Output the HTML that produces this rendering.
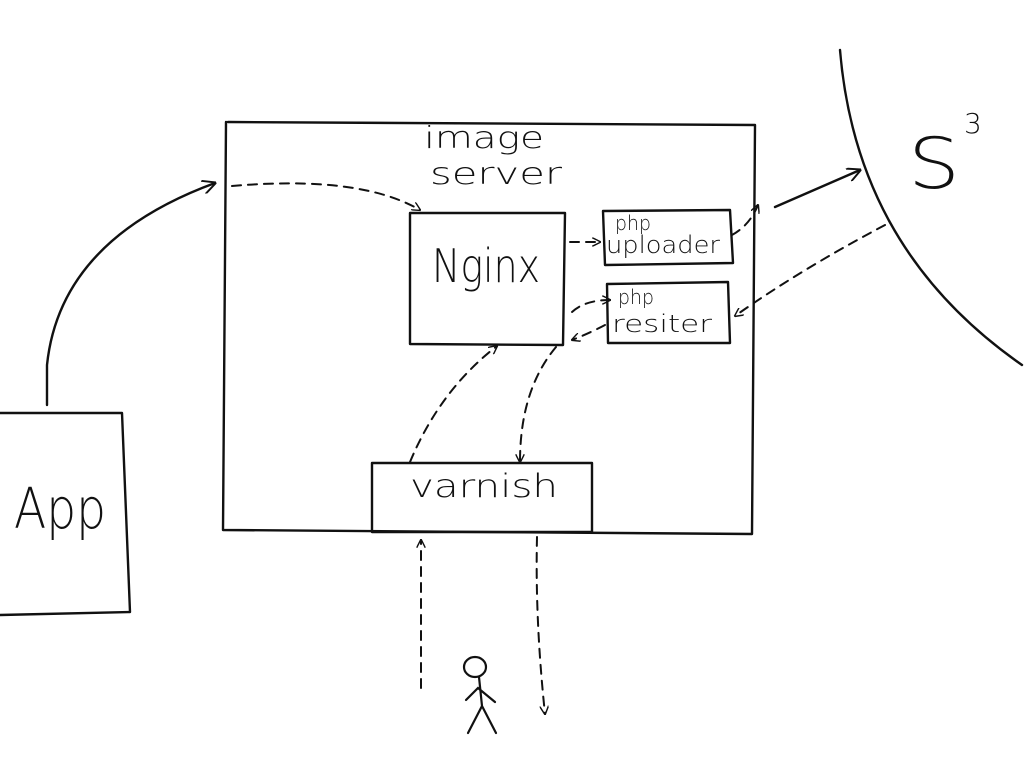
<!DOCTYPE html>
<html><head><meta charset="utf-8"><style>
html,body{margin:0;padding:0;background:#fff;width:1024px;height:768px;overflow:hidden}
svg{display:block}
text{font-family:"DejaVu Sans ExtraLight","DejaVu Sans","Liberation Sans",sans-serif;fill:#111;font-weight:200}
</style></head><body>
<svg width="1024" height="768" viewBox="0 0 1024 768" xmlns="http://www.w3.org/2000/svg">
<defs>
<marker id="a" viewBox="0 0 10 10" refX="9" refY="5" markerWidth="9" markerHeight="9" orient="auto" markerUnits="userSpaceOnUse">
<path d="M0,0 L10,5 L0,10" fill="none" stroke="#111" stroke-width="1.6"/></marker>
<marker id="b" viewBox="0 0 10 10" refX="9" refY="5" markerWidth="14" markerHeight="14" orient="auto" markerUnits="userSpaceOnUse">
<path d="M0,0 L10,5 L0,10" fill="none" stroke="#111" stroke-width="1.4"/></marker>
</defs>
<g fill="none" stroke="#111" stroke-width="2.4" stroke-linecap="round" stroke-linejoin="round">
<path d="M228,122 L755,125 M226,122 L223,530 L752,534 M755,125 L752,534"/>
<path d="M0,413 L122,413 L130,612 L0,615"/>
<path d="M47,405 L47,365 Q60,240 215,183" marker-end="url(#b)"/>
<path d="M410,213 L565,213 L563,345 L410,344 Z"/>
<path d="M603,211 L730,210 L733,263 L605,265 Z"/>
<path d="M607,284 L728,282 L730,343 L608,343 Z"/>
<path d="M372,463 L592,463 L592,532 L372,532 Z"/>
<path d="M840,50 C850,170 900,280 1022,365"/>
<path d="M775,207 L860,170" marker-end="url(#b)"/>
</g>
<g fill="none" stroke="#111" stroke-width="2" stroke-dasharray="9,7" stroke-linecap="round">
<path d="M232,186 Q360,175 420,210" marker-end="url(#a)"/>
<path d="M570,242 L600,242" marker-end="url(#a)"/>
<path d="M732,235 Q750,225 758,205" marker-end="url(#a)"/>
<path d="M885,225 Q800,270 735,316" marker-end="url(#a)"/>
<path d="M572,312 Q585,300 610,300" marker-end="url(#a)"/>
<path d="M605,325 Q590,333 572,340" marker-end="url(#a)"/>
<path d="M410,462 Q440,390 497,346" marker-end="url(#a)"/>
<path d="M556,347 Q520,390 520,462" marker-end="url(#a)"/>
<path d="M421,688 L421,540" marker-end="url(#a)"/>
<path d="M537,537 Q535,620 545,714" marker-end="url(#a)"/>
</g>
<g fill="none" stroke="#111" stroke-width="2.2" stroke-linecap="round">
<ellipse cx="475" cy="667" rx="11" ry="10"/>
<path d="M479,677 L482,706 M482,706 L468,733 M482,706 L496,733 M466,700 L478,688 L495,702"/>
</g>
<text x="424" y="148" font-size="30" textLength="120" lengthAdjust="spacingAndGlyphs">image</text>
<text x="430" y="184" font-size="30" textLength="132" lengthAdjust="spacingAndGlyphs">server</text>
<text x="432" y="282" font-size="46" textLength="108" lengthAdjust="spacingAndGlyphs">Nginx</text>
<text x="615" y="230" font-size="20" textLength="36" lengthAdjust="spacingAndGlyphs">php</text>
<text x="606" y="253" font-size="24" textLength="114" lengthAdjust="spacingAndGlyphs">uploader</text>
<text x="618" y="304" font-size="20" textLength="36" lengthAdjust="spacingAndGlyphs">php</text>
<text x="612" y="332" font-size="24" textLength="100" lengthAdjust="spacingAndGlyphs">resiter</text>
<text x="410" y="497" font-size="32" textLength="148" lengthAdjust="spacingAndGlyphs">varnish</text>
<text x="14" y="528" font-size="56" textLength="92" lengthAdjust="spacingAndGlyphs">App</text>
<text x="908" y="188" font-size="70" textLength="52" lengthAdjust="spacingAndGlyphs">S</text>
<text x="964" y="133" font-size="28">3</text>
</svg>
</body></html>
